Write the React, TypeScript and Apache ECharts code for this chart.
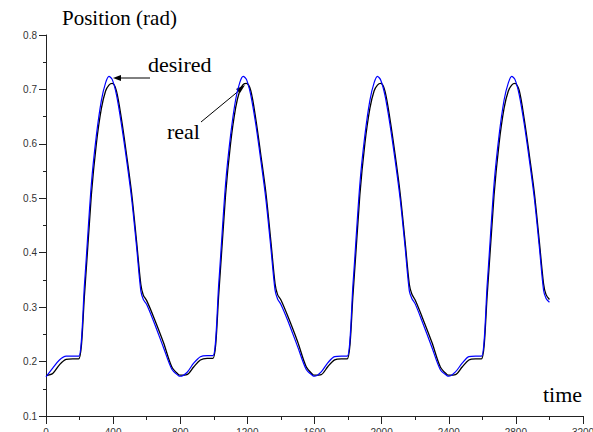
import React, { useEffect, useRef } from "react";
import * as echarts from "echarts";

const times = [
  0, 40, 80, 120, 160, 195, 230, 270, 300, 330, 355, 375, 395, 420, 450, 480, 510, 540, 565, 580, 600, 640, 700, 750, 790,
  800, 840, 880, 920, 960, 995, 1030, 1070, 1100, 1130, 1155, 1175, 1195, 1220, 1250, 1280, 1310, 1340, 1365, 1380, 1400, 1440, 1500, 1550, 1590,
  1600, 1640, 1680, 1720, 1760, 1795, 1830, 1870, 1900, 1930, 1955, 1975, 1995, 2020, 2050, 2080, 2110, 2140, 2165, 2180, 2200, 2240, 2300, 2350, 2390,
  2400, 2440, 2480, 2520, 2560, 2595, 2630, 2670, 2700, 2730, 2755, 2775, 2795, 2820, 2850, 2880, 2910, 2940, 2965, 2980, 3000,
];

const desired = [
  0.172, 0.188, 0.203, 0.210, 0.210, 0.210, 0.345, 0.525, 0.615, 0.680, 0.712, 0.724, 0.718, 0.690, 0.635, 0.571, 0.500, 0.410, 0.330, 0.314, 0.305, 0.275, 0.226, 0.186, 0.174,
  0.173, 0.180, 0.197, 0.209, 0.211, 0.211, 0.346, 0.526, 0.616, 0.681, 0.713, 0.724, 0.718, 0.690, 0.636, 0.570, 0.499, 0.409, 0.331, 0.315, 0.305, 0.276, 0.227, 0.186, 0.174,
  0.173, 0.181, 0.198, 0.209, 0.210, 0.210, 0.345, 0.525, 0.615, 0.680, 0.712, 0.724, 0.717, 0.689, 0.635, 0.571, 0.500, 0.410, 0.330, 0.316, 0.306, 0.275, 0.226, 0.185, 0.174,
  0.173, 0.181, 0.197, 0.209, 0.210, 0.210, 0.346, 0.526, 0.616, 0.681, 0.712, 0.724, 0.718, 0.690, 0.636, 0.571, 0.500, 0.410, 0.331, 0.316, 0.309,
];

const real = [
  0.174, 0.178, 0.194, 0.204, 0.205, 0.205, 0.325, 0.505, 0.600, 0.665, 0.697, 0.708, 0.711, 0.697, 0.645, 0.580, 0.510, 0.420, 0.342, 0.322, 0.312, 0.283, 0.235, 0.190, 0.176,
  0.175, 0.176, 0.190, 0.203, 0.206, 0.206, 0.326, 0.506, 0.601, 0.666, 0.698, 0.709, 0.711, 0.698, 0.646, 0.580, 0.511, 0.421, 0.343, 0.323, 0.313, 0.284, 0.236, 0.191, 0.176,
  0.175, 0.176, 0.191, 0.203, 0.205, 0.205, 0.325, 0.505, 0.600, 0.665, 0.697, 0.708, 0.711, 0.697, 0.645, 0.581, 0.510, 0.420, 0.342, 0.324, 0.313, 0.283, 0.235, 0.190, 0.176,
  0.175, 0.176, 0.190, 0.203, 0.205, 0.205, 0.326, 0.506, 0.601, 0.666, 0.697, 0.708, 0.711, 0.698, 0.645, 0.580, 0.510, 0.420, 0.343, 0.323, 0.314,
];

const xTickLabels = ["0", "400", "800", "1200", "1600", "2000", "2400", "2800", "3200"];

const serif = "'Liberation Serif', 'DejaVu Serif', serif";
const sans = "'Liberation Sans', Arial, sans-serif";

export default function App() {
  const ref = useRef<HTMLDivElement>(null);

  useEffect(() => {
    document.body.style.margin = "0";
    if (!ref.current) return;
    const chart = echarts.init(ref.current, null, { renderer: "svg" });
    const desiredData = times.map((t, i) => [t, desired[i]]);
    const realData = times.map((t, i) => [t, real[i]]);
    chart.setOption({
      animation: false,
      backgroundColor: "#ffffff",
      grid: { left: 46, right: 10, top: 35, bottom: 16, containLabel: false, outerBoundsMode: "none" },
      xAxis: {
        type: "value",
        min: 0,
        max: 3200,
        interval: 400,
        axisLine: { show: true, lineStyle: { color: "#222", width: 1 } },
        axisTick: { show: true, inside: false, length: 8, lineStyle: { color: "#222" } },
        minorTick: { show: true, splitNumber: 2, length: 4, lineStyle: { color: "#222" } },
        splitLine: { show: false },
        axisLabel: {
          margin: 11,
          fontSize: 10,
          fontFamily: sans,
          color: "#333",
          formatter: (v: number) => xTickLabels[Math.round(v / 400)] ?? String(v),
        },
      },
      yAxis: {
        type: "value",
        min: 0.1,
        max: 0.8,
        interval: 0.1,
        axisLine: { show: true, lineStyle: { color: "#222", width: 1 } },
        axisTick: { show: true, inside: false, length: 7, lineStyle: { color: "#222" } },
        minorTick: { show: true, splitNumber: 2, length: 3, lineStyle: { color: "#222" } },
        splitLine: { show: false },
        axisLabel: {
          margin: 9,
          fontSize: 10,
          fontFamily: sans,
          color: "#333",
          formatter: (v: number) => v.toFixed(1),
        },
      },
      series: [
        {
          name: "real",
          type: "line",
          data: realData,
          showSymbol: false,
          smooth: 0.3,
          lineStyle: { color: "#000000", width: 1.3 },
          z: 2,
        },
        {
          name: "desired",
          type: "line",
          data: desiredData,
          showSymbol: false,
          smooth: 0.3,
          lineStyle: { color: "#0000ff", width: 1.2 },
          z: 3,
        },
      ],
      graphic: [
        {
          type: "text",
          left: 62,
          top: 7,
          style: { text: "Position (rad)", font: `21px ${serif}`, fill: "#000" },
        },
        {
          type: "text",
          left: 148,
          top: 53,
          style: { text: "desired", font: `22px ${serif}`, fill: "#000" },
        },
        {
          type: "text",
          left: 167,
          top: 120,
          style: { text: "real", font: `22px ${serif}`, fill: "#000" },
        },
        {
          type: "text",
          left: 543,
          top: 383,
          style: { text: "time", font: `22px ${serif}`, fill: "#000" },
        },
        {
          type: "line",
          shape: { x1: 150, y1: 78, x2: 118, y2: 78 },
          style: { stroke: "#000", lineWidth: 1 },
        },
        {
          type: "polygon",
          shape: { points: [[113, 78], [121, 75], [121, 81]] },
          style: { fill: "#000" },
        },
        {
          type: "line",
          shape: { x1: 201, y1: 122, x2: 241, y2: 89 },
          style: { stroke: "#000", lineWidth: 1 },
        },
        {
          type: "polygon",
          shape: { points: [[245, 85], [236, 89], [240, 93]] },
          style: { fill: "#000" },
        },
      ],
    });
    return () => chart.dispose();
  }, []);

  return (
    <div
      ref={ref}
      style={{ position: "fixed", left: 0, top: 0, width: 593, height: 432 }}
    />
  );
}
